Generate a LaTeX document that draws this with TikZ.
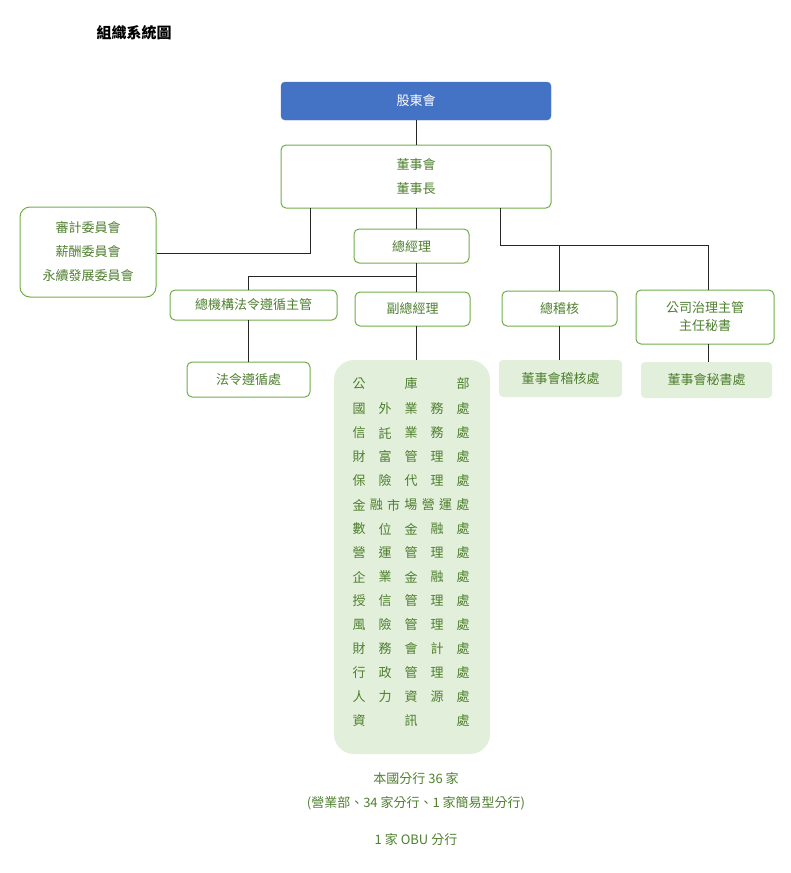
\documentclass[tikz,border=0pt]{standalone}
\usepackage{fontspec}
\setmainfont{Noto Sans CJK TC}
\definecolor{gtext}{HTML}{4E7F2E}
\definecolor{gline}{HTML}{70AD47}
\definecolor{gfill}{HTML}{E2EFDA}
\definecolor{bfill}{HTML}{4472C4}
\tikzset{
  box/.style={draw=gline, line width=1pt, rounded corners=5pt, fill=white, text=gtext, font=\fontsize{13}{18}\selectfont, align=center, inner sep=0pt},
  fbox/.style={fill=gfill, rounded corners=4pt, text=gtext, font=\fontsize{13}{18}\selectfont, inner sep=0pt},
  conn/.style={draw=black!85, line width=0.8pt},
  ct/.style={text=gtext, font=\fontsize{13}{14}\selectfont, inner sep=0pt}
}
\begin{document}
\begin{tikzpicture}[x=1pt,y=-1pt]
\useasboundingbox (0,0) rectangle (791,873);
\node[anchor=west, font=\bfseries\fontsize{15}{18}\selectfont] (title) at (93,33) {組織系統圖};
\node[draw=bfill, fill=bfill, rounded corners=4pt, text=white, font=\fontsize{13}{18}\selectfont, minimum width=270pt, minimum height=38pt, inner sep=0pt] (gd) at (416,101) {股東會};
\node[box, minimum width=270pt, minimum height=63pt, font=\fontsize{13}{24}\selectfont] (bd) at (416,176.5) {董事會\\董事長};
\node[box, rounded corners=10pt, minimum width=136pt, minimum height=90pt, font=\fontsize{13}{24}\selectfont] (cm) at (88,252) {審計委員會\\薪酬委員會\\永續發展委員會};
\node[box, minimum width=115pt, minimum height=34pt] (gm) at (411.5,246) {總經理};
\node[box, minimum width=167pt, minimum height=30pt] (cmp) at (253.5,305) {總機構法令遵循主管};
\node[box, minimum width=115pt, minimum height=34pt] (vgm) at (412.5,309) {副總經理};
\node[box, minimum width=115pt, minimum height=35pt] (aud) at (559.5,308.5) {總稽核};
\node[box, minimum width=138pt, minimum height=54pt] (cg) at (705,317) {公司治理主管\\主任秘書};
\node[box, minimum width=123pt, minimum height=35pt] (law) at (248.5,379.5) {法令遵循處};
\node[fbox, minimum width=123pt, minimum height=37pt] (ada) at (560.5,378.5) {董事會稽核處};
\node[fbox, minimum width=131pt, minimum height=36pt] (sec) at (706.5,380) {董事會秘書處};
\node[fill=gfill, rounded corners=20pt, minimum width=156pt, minimum height=394pt, inner sep=0pt] (col) at (412,557) {};
\coordinate (j1) at (416,276);
\coordinate (j2) at (248,276);
\coordinate (j3) at (500,245);
\coordinate (j4) at (559,245);
\coordinate (j5) at (708,245);
\coordinate (j6) at (310,253);
\draw[conn] (416,120) -- (416,145);
\draw[conn] (416,208) -- (416,229);
\draw[conn] (310,208) -- (j6) -- (cm.east |- j6);
\draw[conn] (500,208) -- (j3) -- (j5) -- (708,290);
\draw[conn] (j4) -- (559,291);
\draw[conn] (416,263) -- (j1) -- (j2) -- (248,290);
\draw[conn] (j1) -- (416,292);
\draw[conn] (248,320) -- (248,362);
\draw[conn] (416,326) -- (416,360);
\draw[conn] (559,326) -- (559,360);
\draw[conn] (708,344) -- (708,362);
\foreach \y/\a/\b/\c/\d/\e in {409/國/外/業/務/處,433/信/託/業/務/處,457/財/富/管/理/處,481/保/險/代/理/處,529/數/位/金/融/處,553/營/運/管/理/處,577/企/業/金/融/處,601/授/信/管/理/處,625/風/險/管/理/處,649/財/務/會/計/處,673/行/政/管/理/處,697/人/力/資/源/處}{
  \node[ct] (r\y a) at (359,\y) {\a};
  \node[ct] (r\y b) at (385,\y) {\b};
  \node[ct] (r\y c) at (411,\y) {\c};
  \node[ct] (r\y d) at (437,\y) {\d};
  \node[ct] (r\y e) at (463,\y) {\e};
}
\node[ct] (p1) at (359,384) {公};
\node[ct] (p2) at (411,384) {庫};
\node[ct] (p3) at (463,384) {部};
\node[ct] (q1) at (359,721) {資};
\node[ct] (q2) at (411,721) {訊};
\node[ct] (q3) at (463,721) {處};
\foreach \i/\ch in {0/金,1/融,2/市,3/場,4/營,5/運,6/處}{
  \node[ct] (m\i) at (359+17.33*\i,505) {\ch};
}
\node[ct] (b1) at (416,779) {本國分行 36 家};
\node[ct] (b2) at (416,803) {(營業部、34 家分行、1 家簡易型分行)};
\node[ct] (b3) at (416,840) {1 家 OBU 分行};
\end{tikzpicture}
\end{document}
